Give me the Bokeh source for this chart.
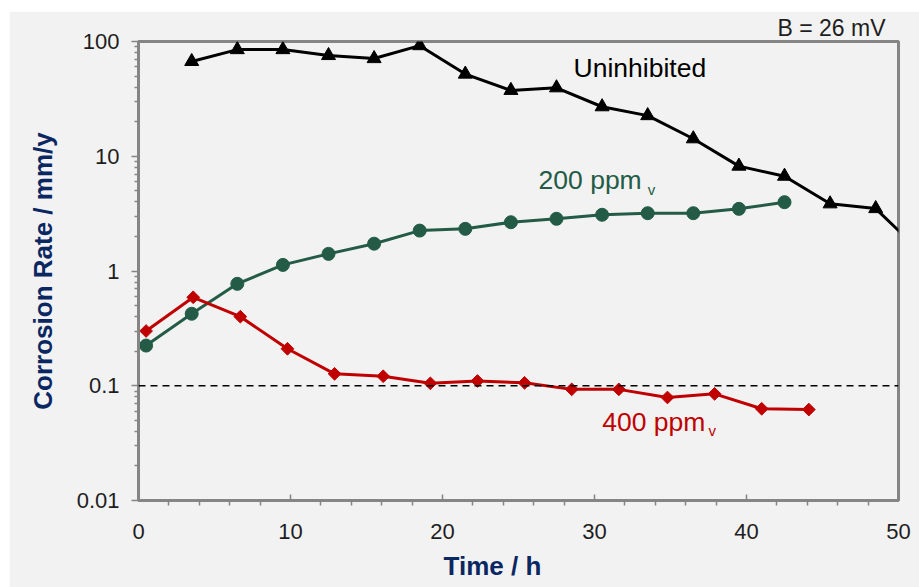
import math
from bokeh.plotting import figure
from bokeh.models import FixedTicker, Label, Span, Range1d, Title
from bokeh.embed import file_html
from bokeh.resources import INLINE

# ---- data ----
time_uninhibited = [3.5, 6.5, 9.5, 12.5, 15.5, 18.5, 21.5, 24.5, 27.5, 30.5,
                    33.5, 36.5, 39.5, 42.5, 45.5, 48.5, 51.5]
rate_uninhibited = [67, 85, 85, 75.5, 71, 92, 52, 37.5, 39.5, 27,
                    22.6, 14.2, 8.2, 6.7, 3.85, 3.5, 1.45]

time_200 = [0.5, 3.5, 6.5, 9.5, 12.5, 15.5, 18.5, 21.5, 24.5, 27.5,
            30.5, 33.5, 36.5, 39.5, 42.5]
rate_200 = [0.224, 0.424, 0.773, 1.13, 1.41, 1.73, 2.25, 2.33, 2.66, 2.85,
            3.09, 3.19, 3.19, 3.48, 3.98]

time_400 = [0.5, 3.6, 6.7, 9.8, 12.9, 16.1, 19.2, 22.3, 25.4, 28.5,
            31.6, 34.8, 37.9, 41.0, 44.1]
rate_400 = [0.30, 0.59, 0.40, 0.21, 0.127, 0.121, 0.105, 0.110, 0.106, 0.093,
            0.093, 0.079, 0.085, 0.063, 0.062]

threshold = 0.1

x_ticks = [0, 10, 20, 30, 40, 50]
x_minor = [v for v in range(0, 51, 2) if v % 10 != 0]
y_ticks = [0.01, 0.1, 1, 10, 100]
y_tick_labels = ["0.01", "0.1", "1", "10", "100"]
y_minor = [m * d for d in [0.01, 0.1, 1, 10] for m in range(2, 10)]

NAVY = "#0b2762"
GREEN = "#235b46"
RED = "#c00000"
GRAY = "#858585"
BG = "#f2f2f2"
FONT = "Liberation Sans"

p = figure(width=910, height=576, margin=(11, 0, 0, 9),
           y_axis_type="log", output_backend="svg", toolbar_location=None,
           x_range=Range1d(0, 50), y_range=Range1d(0.01, 100),
           min_border_left=129, min_border_right=21, min_border_top=30,
           min_border_bottom=87)
p.background_fill_color = BG
p.border_fill_color = BG
p.outline_line_color = GRAY
p.outline_line_width = 3
p.grid.visible = False

# note above the frame (right aligned)
p.add_layout(Title(text="B = 26 mV", align="right", offset=13, standoff=2,
                   text_font=FONT, text_font_size="23px",
                   text_font_style="normal", text_color="#1e1e1e"), "above")

# axes
p.xaxis.ticker = FixedTicker(ticks=x_ticks, minor_ticks=x_minor)
p.yaxis.ticker = FixedTicker(ticks=y_ticks, minor_ticks=y_minor)
p.yaxis.major_label_overrides = {t: s for t, s in zip(y_ticks, y_tick_labels)}
for ax in (p.xaxis, p.yaxis):
    ax.axis_line_color = GRAY
    ax.axis_line_width = 3
    ax.major_tick_line_color = GRAY
    ax.minor_tick_line_color = GRAY
    ax.major_tick_line_width = 1.5
    ax.minor_tick_line_width = 1.5
    ax.major_label_text_font = FONT
    ax.major_label_text_font_size = "22px"
    ax.major_label_text_color = "#1e1e1e"
p.xaxis.major_tick_in = 6
p.xaxis.major_tick_out = 0
p.xaxis.minor_tick_in = 0
p.xaxis.minor_tick_out = 5
p.xaxis.major_label_standoff = 18
p.yaxis.major_tick_in = 0
p.yaxis.major_tick_out = 7
p.yaxis.minor_tick_in = 0
p.yaxis.minor_tick_out = 4
p.yaxis.major_label_standoff = 12

p.yaxis.axis_label = "Corrosion Rate / mm/y"
p.yaxis.axis_label_text_font = FONT
p.yaxis.axis_label_text_font_size = "26px"
p.yaxis.axis_label_text_font_style = "bold"
p.yaxis.axis_label_text_color = NAVY
p.yaxis.axis_label_standoff = 16

# x-axis title as a title below, shifted left like the reference
p.add_layout(Title(text="Time / h", align="left", offset=305, standoff=14,
                   text_font=FONT, text_font_size="26px",
                   text_font_style="bold", text_color=NAVY), "below")

# threshold line
p.add_layout(Span(location=threshold, dimension="width", line_color="black",
                  line_width=1.7, line_dash="7 5"))

# series
p.line(time_uninhibited, rate_uninhibited, line_color="black", line_width=3)
p.scatter(time_uninhibited, rate_uninhibited, marker="triangle", size=14,
          fill_color="black", line_color="black")

p.line(time_200, rate_200, line_color=GREEN, line_width=3)
p.scatter(time_200, rate_200, marker="circle", size=13,
          fill_color=GREEN, line_color=GREEN)

p.line(time_400, rate_400, line_color=RED, line_width=3)
p.scatter(time_400, rate_400, marker="square", angle=math.pi / 4, size=9,
          fill_color=RED, line_color=RED)

# series labels
def lab(x, y, text, color, size, **kw):
    p.add_layout(Label(x=x, y=y, text=text, text_color=color, text_font=FONT,
                       text_font_size=size, text_baseline="middle", **kw))

lab(28.62, 58.2, "Uninhibited", "black", "26.5px")
lab(26.32, 6.15, "200 ppm", GREEN, "26.5px")
lab(33.5, 5.13, "v", GREEN, "15px")
lab(30.51, 0.0488, "400 ppm", RED, "26.5px")
lab(37.5, 0.0407, "v", RED, "15px")

open("out.html", "w").write(file_html(p, INLINE))
